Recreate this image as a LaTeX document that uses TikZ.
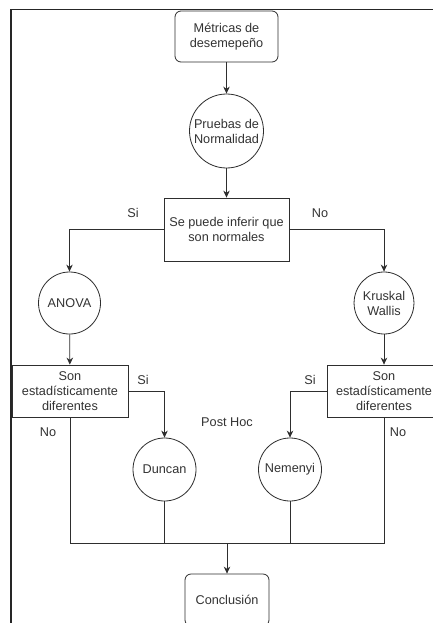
\documentclass[tikz,border=0pt]{standalone}
\usepackage{fontspec}
\setmainfont{Liberation Sans}
\usetikzlibrary{arrows.meta,shapes.geometric}
\tikzset{
  ink/.style={draw=black!82, line width=0.8pt},
  txt/.style={text=black!80, font=\fontsize{12.7}{15}\selectfont, align=center},
  base/.style={ink, txt, inner sep=0pt, fill=white},
  rbox/.style={base, rounded corners=6pt},
  dbox/.style={base},
  circ/.style={base, circle},
  oval/.style={base, ellipse},
  lbl/.style={txt, inner sep=0pt},
  arr/.style={ink, -{Stealth[length=7pt,width=6.5pt]}},
  ln/.style={ink},
  frame/.style={draw=black!85, line width=1.8pt}
}
\begin{document}
\begin{tikzpicture}[x=1pt,y=-1pt]
\useasboundingbox (0,0) rectangle (433,623);
\clip (0,0) rectangle (433,623);
\fill[white] (0,0) rectangle (433,623);
\draw[frame] (11,660) -- (11,9.5) -- (460,9.5);

\node[rbox, minimum width=103pt, minimum height=51pt] (m) at (226.5,36.5) {Métricas de\\desemepeño};
\node[circ, minimum size=74pt] (p) at (226.5,131) {Pruebas de\\Normalidad};
\node[dbox, minimum width=125pt, minimum height=63pt] (d) at (226.5,229.5) {Se puede inferir que\\son normales};
\node[circ, minimum size=62pt] (anova) at (69.5,303) {ANOVA};
\node[oval, minimum width=55pt, minimum height=62pt] (kw) at (384,303) {Kruskal\\Wallis};
\node[dbox, minimum width=116pt, minimum height=52pt] (sb1) at (70,391) {Son\\estadísticamente\\diferentes};
\node[dbox, minimum width=114pt, minimum height=52pt] (sb2) at (384,391) {Son\\estadísticamente\\diferentes};
\node[circ, minimum size=63pt] (duncan) at (164.5,469.5) {Duncan};
\node[circ, minimum size=63pt] (nemenyi) at (290,469.5) {Nemenyi};
\node[rbox, minimum width=84pt, minimum height=52pt] (conc) at (227,600) {Conclusión};
\coordinate (j) at (227,543);

\node[lbl] (si1) at (133,213) {Si};
\node[lbl] (no1) at (320,213) {No};
\node[lbl] (si2) at (143,380) {Si};
\node[lbl] (si3) at (310,380) {Si};
\node[lbl] (ph) at (227,422) {Post Hoc};
\node[lbl] (no2) at (48,432) {No};
\node[lbl] (no3) at (398,432) {No};

\draw[arr] (m) -- (p);
\draw[arr] (p) -- (d);
\draw[arr] (d.west) -| (anova.north);
\draw[arr] (d.east) -| (kw.north);
\draw[arr] (anova) -- (sb1);
\draw[arr] (kw) -- (sb2);
\draw[arr] (sb1.east) -| (duncan.north);
\draw[arr] (sb2.west) -| (nemenyi.north);
\draw[ln] (sb1.south) -- (sb1.south |- j) -- (sb2.south |- j) -- (sb2.south);
\draw[ln] (duncan.south) -- (duncan.south |- j);
\draw[ln] (nemenyi.south) -- (nemenyi.south |- j);
\draw[arr] (j) -- (conc.north);
\end{tikzpicture}
\end{document}
